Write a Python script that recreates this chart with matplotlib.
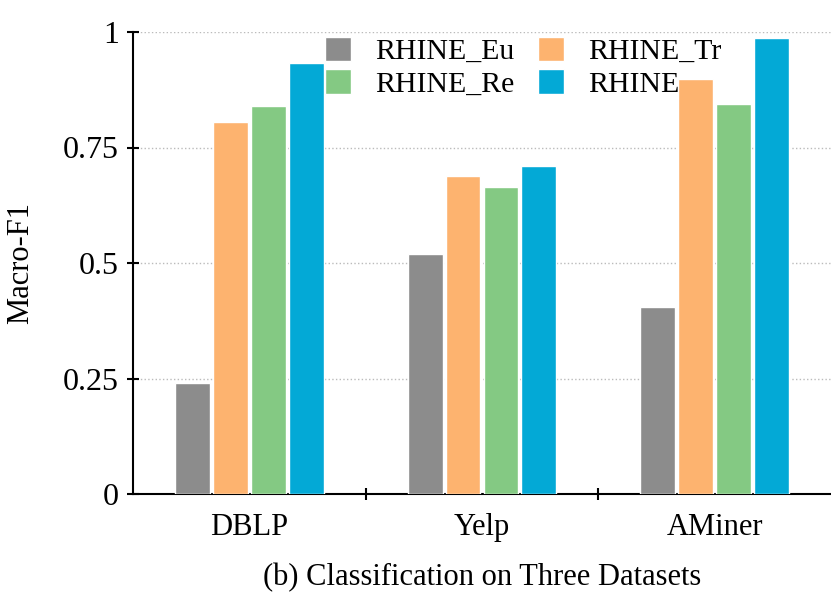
import numpy as np
import matplotlib
matplotlib.use('Agg')
import matplotlib.pyplot as plt

plt.rcParams['font.family'] = ['Liberation Serif', 'DejaVu Serif']

datasets = ['DBLP', 'Yelp', 'AMiner']
methods = ['RHINE_Eu', 'RHINE_Tr', 'RHINE_Re', 'RHINE']
eu = [0.240, 0.519, 0.405]
tr = [0.805, 0.688, 0.898]
re = [0.840, 0.665, 0.844]
rhine = [0.933, 0.710, 0.987]
colors = ['#8c8c8c', '#fdb36f', '#84c983', '#03a9d6']

fig = plt.figure(figsize=(8.31, 5.95), dpi=100)
ax = fig.add_axes([133 / 831, 101 / 595, 698 / 831, 462 / 595])

x = np.arange(len(datasets)) + 0.5
w = 0.15
step = 0.163
bars = []
for i, (vals, c, lab) in enumerate(zip([eu, tr, re, rhine], colors, methods)):
    b = ax.bar(x + (i - 1.5) * step, vals, w, color=c, edgecolor='white',
               linewidth=1, label=lab, zorder=3)
    bars.append(b)

ax.set_xlim(0, 3)
ax.set_ylim(0, 1)
ax.set_yticks([0, 0.25, 0.5, 0.75, 1])
ax.set_yticklabels(['0', '0.25', '0.5', '0.75', '1'])
ax.set_xticks([1, 2])
ax.set_xticklabels([])
ax.set_xticks(x, minor=True)
ax.set_xticklabels(datasets, minor=True)
ax.tick_params(axis='x', which='minor', length=0, pad=14, labelsize=22)
ax.tick_params(axis='x', which='major', direction='inout', length=8, width=1.5)
ax.tick_params(axis='y', direction='inout', length=8, width=1.5, labelsize=23, pad=6)
ax.yaxis.grid(True, linestyle=':', color='#bbbbbb', linewidth=1, zorder=0)
ax.spines['top'].set_visible(False)
ax.spines['right'].set_visible(False)
ax.spines['left'].set_linewidth(1.5)
ax.spines['bottom'].set_linewidth(1.5)

ax.set_ylabel('Macro-F1', fontsize=22, labelpad=20)
ax.set_xlabel('(b) Classification on Three Datasets', fontsize=22, labelpad=15)

order = [0, 2, 1, 3]
ax.legend([bars[k] for k in order], [methods[k] for k in order], ncol=2,
          loc='upper left', bbox_to_anchor=(0.258, 1.016), frameon=False,
          fontsize=21.5, handlelength=0.87, handleheight=0.87, handletextpad=0.8,
          columnspacing=0.8, labelspacing=0.15, borderaxespad=0)

fig.savefig('out.png', dpi=100)
